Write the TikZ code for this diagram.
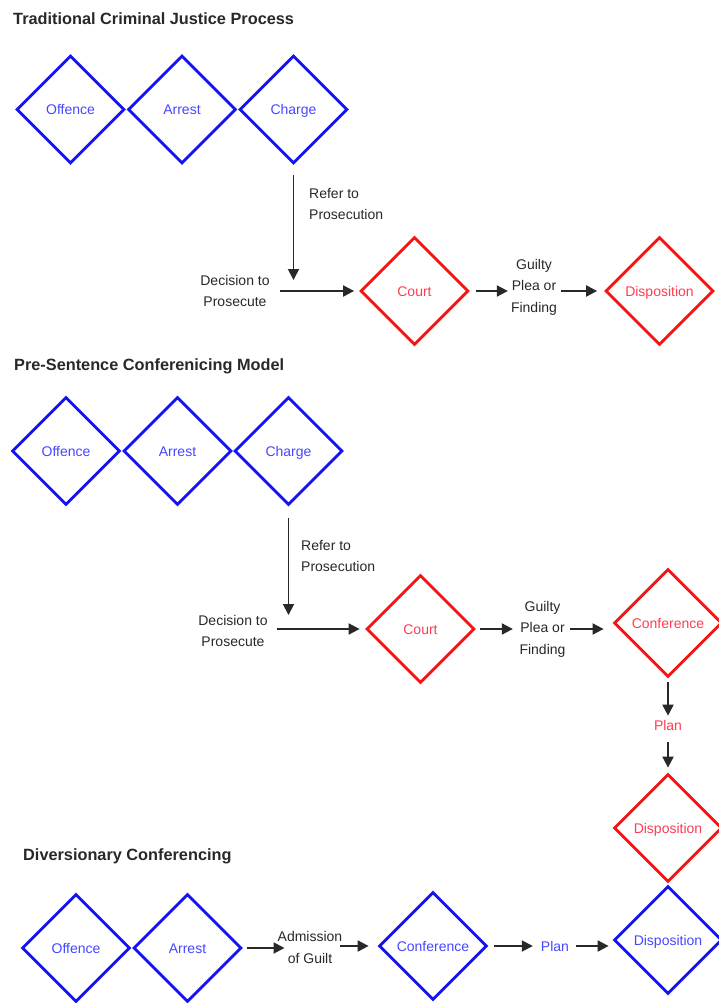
\documentclass[tikz,border=0pt]{standalone}
\usepackage{fontspec}
\setmainfont{Liberation Sans}
\usetikzlibrary{shapes.geometric,arrows.meta}
\definecolor{stageblue}{RGB}{20,20,240}
\definecolor{labelblue}{RGB}{70,70,255}
\definecolor{stagered}{RGB}{245,20,20}
\definecolor{labelred}{RGB}{255,60,80}
\definecolor{ink}{RGB}{40,40,40}

\begin{document}
\begin{tikzpicture}
	[x=1pt,y=-1pt,
	 stage/.style={diamond,draw,line width=2.8pt,minimum size=108pt,inner sep=0pt,
		text height=11pt,text depth=1pt,font=\fontsize{14}{17}\selectfont},
	 bluestage/.style={stage,draw=stageblue,text=labelblue},
	 redstage/.style={stage,draw=stagered,text=labelred},
	 note/.style={inner sep=0pt,align=center,text=ink,font=\fontsize{14}{21.5}\selectfont},
	 heading/.style={anchor=base west,inner sep=0pt,text=ink,
		font=\fontsize{16.3}{20}\selectfont\bfseries},
	 flow/.style={draw=ink,line width=1.9pt,-{Triangle[length=11pt,width=11pt]}}]
\useasboundingbox (0,0) rectangle (719,1003);

% traditional process
\node[heading] (title1) at (13,25) {Traditional Criminal Justice Process};
\foreach \n/\x/\t in {offence1/70.5/Offence,arrest1/182/Arrest,charge1/293.5/Charge}
	\node[bluestage] (\n) at (\x,109.5) {\t};
\coordinate (drop1) at (293.5,280);
\draw[flow,shorten <=10pt] (charge1.south) -- (drop1);
\node[note,anchor=west,align=left] (refer1) at (309,204) {Refer to\\Prosecution};
\node[note] (decide1) at (235,291) {Decision to\\Prosecute};
\node[redstage] (court1) at (414.5,291) {Court};
\node[note] (guilty1) at (534,287) {Guilty\\Plea or\\Finding};
\node[redstage] (dispo1) at (659.5,291) {Disposition};
\draw[flow,shorten <=10pt,shorten >=5pt] (decide1.east |- court1) -- (court1.west);
\draw[flow,shorten <=6pt,shorten >=3pt] (court1.east) -- (court1 -| guilty1.west);
\draw[flow,shorten <=4pt,shorten >=7pt] (guilty1.east |- dispo1) -- (dispo1.west);

% pre-sentence model
\node[heading] (title2) at (14,370) {Pre-Sentence Conferenicing Model};
\foreach \n/\x/\t in {offence2/66/Offence,arrest2/177.5/Arrest,charge2/288.5/Charge}
	\node[bluestage] (\n) at (\x,451) {\t};
\coordinate (drop2) at (288.5,615);
\draw[flow,shorten <=12pt] (charge2.south) -- (drop2);
\node[note,anchor=west,align=left] (refer2) at (301,556) {Refer to\\Prosecution};
\node[note] (decide2) at (233,631) {Decision to\\Prosecute};
\node[redstage] (court2) at (420.5,629) {Court};
\node[note] (guilty2) at (542.5,629) {Guilty\\Plea or\\Finding};
\node[redstage] (conference2) at (668,623) {Conference};
\node[note,text=labelred] (plan2) at (668,725) {Plan};
\node[redstage] (dispo2) at (668,828) {Disposition};
\draw[flow,shorten <=9.5pt,shorten >=5.5pt] (decide2.east |- court2) -- (court2.west);
\draw[flow,shorten <=4.5pt,shorten >=6.5pt] (court2.east) -- (court2 -| guilty2.west);
\draw[flow,shorten <=4.5pt,shorten >=9pt] (guilty2.east |- court2) -- (court2 -| conference2.west);
\draw[flow,shorten <=4pt,shorten >=4pt] (conference2.south) -- (plan2.north);
\draw[flow,shorten <=12pt,shorten >=5pt] (plan2.south) -- (dispo2.north);

% diversionary conferencing
\node[heading] (title3) at (23,860) {Diversionary Conferencing};
\foreach \n/\x/\t in {offence3/76/Offence,arrest3/187.5/Arrest}
	\node[bluestage] (\n) at (\x,948) {\t};
\node[note] (admit) at (310,947.5) {Admission\\of Guilt};
\node[bluestage] (conference3) at (433,946) {Conference};
\node[note,text=labelblue] (plan3) at (555,946) {Plan};
\node[bluestage] (dispo3) at (668,940) {Disposition};
\draw[flow,shorten <=4.5pt,shorten >=-7pt] (arrest3.east) -- (arrest3 -| admit.west);
\draw[flow,shorten <=-2pt,shorten >=9pt] (admit.east |- conference3) -- (conference3.west);
\draw[flow,shorten <=6pt,shorten >=8pt] (conference3.east) -- (conference3 -| plan3.west);
\draw[flow,shorten <=7pt,shorten >=4pt] (plan3.east |- conference3) -- (conference3 -| dispo3.west);
\end{tikzpicture}
\end{document}
